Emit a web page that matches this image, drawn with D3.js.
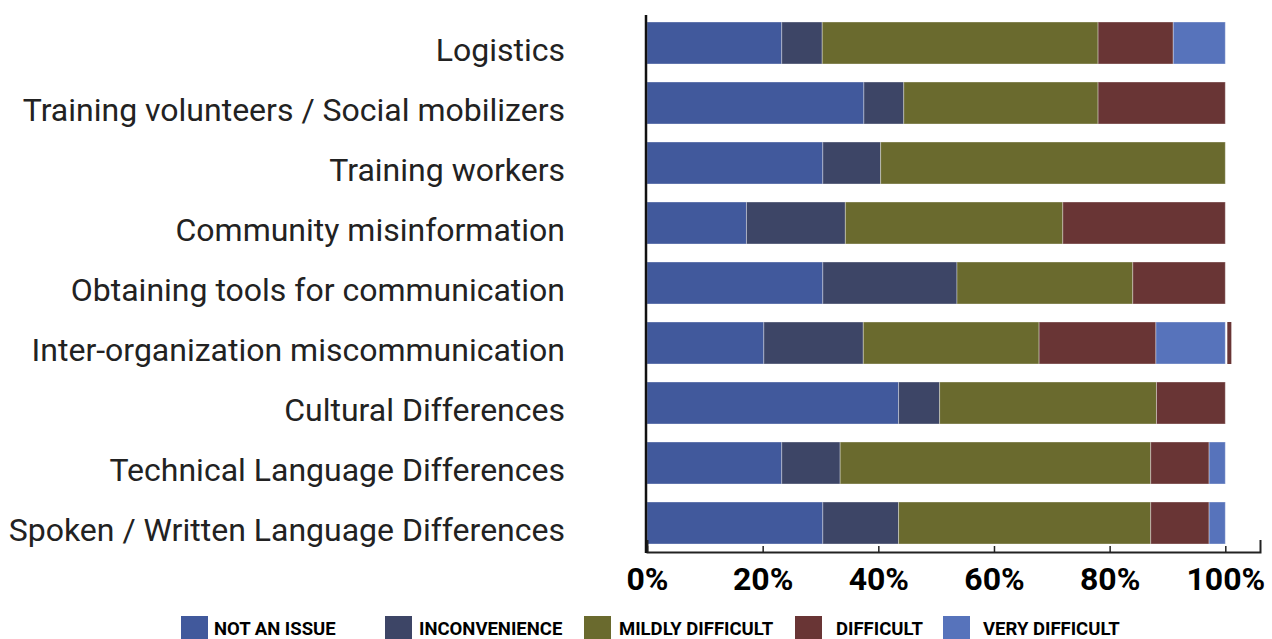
<!DOCTYPE html><html><head><meta charset="utf-8">
<script src="https://cdn.jsdelivr.net/npm/d3@7"></script>
<style>
  body { margin: 0; background: #fff; }
  text { font-family: Roboto, "Noto Sans", sans-serif; }
</style>
</head>
<body><svg id="chart"></svg>
<script>

var categories = ["Logistics",
                  "Training volunteers / Social mobilizers",
                  "Training workers",
                  "Community misinformation",
                  "Obtaining tools for communication",
                  "Inter-organization miscommunication",
                  "Cultural Differences",
                  "Technical Language Differences",
                  "Spoken / Written Language Differences"];

var levels = ["NOT AN ISSUE", "INCONVENIENCE", "MILDLY DIFFICULT", "DIFFICULT", "VERY DIFFICULT"];

// percent of answers, one array per level, same order as categories
var notAnIssue    = [23.3, 37.5, 30.4, 17.2, 30.4, 20.2, 43.5, 23.3, 30.4];
var inconvenience = [ 7.0,  6.9, 10.0, 17.1, 23.2, 17.2,  7.1, 10.1, 13.1];
var mildly        = [47.7, 33.6, 59.6, 37.6, 30.4, 30.4, 37.5, 53.7, 43.6];
var difficult     = [13.0, 22.0,  0.0, 28.1, 16.0, 20.2, 11.9, 10.1, 10.1];
var veryDifficult = [ 9.0,  0.0,  0.0,  0.0,  0.0, 12.0,  0.0,  2.8,  2.8];
// small stray piece drawn past 100% on one bar
var overflow      = [ 0,    0,    0,    0,    0,    0.7,  0,    0,    0  ];

var xTicks = [0, 20, 40, 60, 80, 100];

var colors = ["#41599c", "#3d4566", "#6a6a2e", "#693535", "#5773bb"];

var width = 1272, height = 639;

var svg = d3.select("#chart")
    .attr("width", width)
    .attr("height", height);

var rows = categories.map(function(c, i) {
  return { cat: c, v: [notAnIssue[i], inconvenience[i], mildly[i], difficult[i], veryDifficult[i]], extra: overflow[i] };
});

var x = d3.scaleLinear().domain([0, 106]).range([647, 1260]);
var y = d3.scaleBand().domain(categories).range([13, 553]).paddingInner(0.3).paddingOuter(0.15);

var segs = [];
rows.forEach(function(r) {
  var acc = 0;
  r.v.forEach(function(v, k) {
    if (v > 0) segs.push({ cat: r.cat, k: k, x0: acc, x1: acc + v });
    acc += v;
  });
});

svg.selectAll(".seg")
    .data(segs)
  .enter().append("rect")
    .attr("class", "seg")
    .attr("x", function(d) { return x(d.x0); })
    .attr("y", function(d) { return y(d.cat); })
    .attr("width", function(d) { return x(d.x1) - x(d.x0); })
    .attr("height", y.bandwidth())
    .attr("fill", function(d) { return colors[d.k]; })
    .attr("stroke", "rgba(255,255,255,0.35)")
    .attr("stroke-width", 1);

svg.selectAll(".extra")
    .data(rows.filter(function(r) { return r.extra > 0; }))
  .enter().append("rect")
    .attr("class", "extra")
    .attr("x", function(d) { return x(100) + 2; })
    .attr("y", function(d) { return y(d.cat); })
    .attr("width", function(d) { return x(d.extra) - x(0); })
    .attr("height", y.bandwidth())
    .attr("fill", colors[3]);

// category labels
svg.selectAll(".catLabel")
    .data(categories)
  .enter().append("text")
    .attr("class", "catLabel")
    .attr("x", 565)
    .attr("y", function(d) { return y(d) + y.bandwidth() / 2 + 18; })
    .style("text-anchor", "end")
    .style("font-size", "32px")
    .attr("fill", "#222")
    .text(function(d) { return d; });

// bottom axis, ticks point up
var xAxis = d3.axisBottom(x)
    .tickValues(xTicks)
    .tickFormat(function(d) { return d + "%"; })
    .tickSizeInner(-6)
    .tickSizeOuter(-12)
    .tickPadding(15);

var gx = svg.append("g")
    .attr("transform", "translate(0,552)")
    .call(xAxis);
gx.select(".domain").attr("stroke", "#222").attr("stroke-width", 2);
gx.selectAll(".tick line").attr("stroke", "#222").attr("stroke-width", 1.5);
gx.selectAll(".tick text")
    .attr("fill", "#000")
    .style("font-family", "Roboto, sans-serif")
    .style("font-weight", "bold")
    .style("font-size", "32px");

// left axis line
svg.append("line")
    .attr("x1", 646).attr("x2", 646)
    .attr("y1", 15).attr("y2", 553)
    .attr("stroke", "#111")
    .attr("stroke-width", 2.5);

// legend
var legendX = [181, 385, 584, 795, 943],
    legendGap = [33, 34, 35, 41, 40];

var leg = svg.selectAll(".legend")
    .data(levels)
  .enter().append("g")
    .attr("class", "legend")
    .attr("transform", function(d, i) { return "translate(" + legendX[i] + ",616)"; });

leg.append("rect")
    .attr("width", 27)
    .attr("height", 26)
    .attr("fill", function(d, i) { return colors[i]; });

leg.append("text")
    .attr("x", function(d, i) { return legendGap[i]; })
    .attr("y", 19)
    .style("font-size", "18.5px")
    .style("font-weight", "bold")
    .attr("fill", "#000")
    .text(function(d) { return d; });

</script>
</body></html>
